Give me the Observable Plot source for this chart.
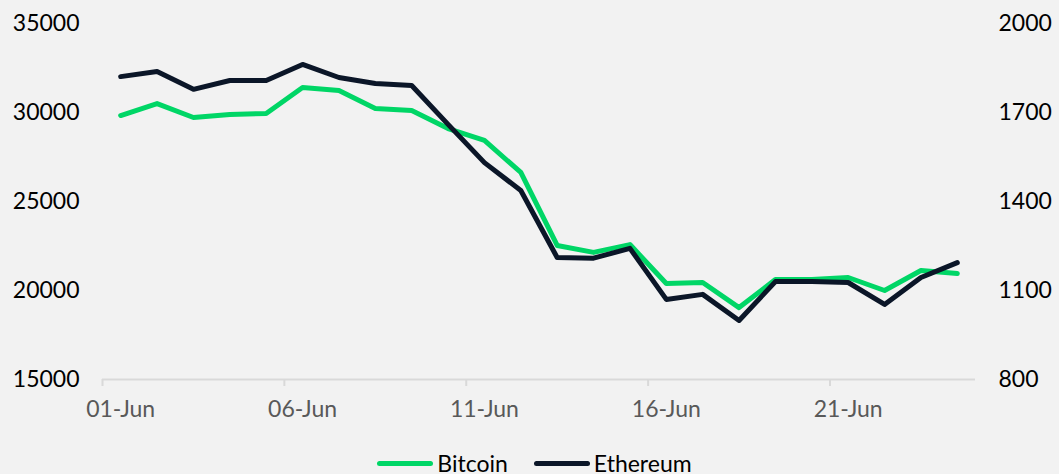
<!DOCTYPE html>
<html>
<head>
<meta charset="utf-8">
<script src="https://cdn.jsdelivr.net/npm/d3@7"></script>
<script src="https://cdn.jsdelivr.net/npm/@observablehq/plot@0.6"></script>
<style>
  html, body { margin: 0; padding: 0; background: #f2f2f2; }
  body { width: 1059px; height: 474px; overflow: hidden; font-family: Lato, "Open Sans", sans-serif; }
  #legend { display: flex; justify-content: center; align-items: center; height: 44px; margin-top: 11px; font-size: 23px; color: #000; margin-left: 10px; }
  .item { display: flex; align-items: center; margin: 0 13px; }
  .sw { width: 56px; height: 5px; border-radius: 3px; margin-right: 4px; }
</style>
</head>
<body>
<div id="chart"></div>
<div id="legend"></div>
<script>
const dates = ["01-Jun","02-Jun","03-Jun","04-Jun","05-Jun","06-Jun","07-Jun","08-Jun","09-Jun","10-Jun","11-Jun","12-Jun","13-Jun","14-Jun","15-Jun","16-Jun","17-Jun","18-Jun","19-Jun","20-Jun","21-Jun","22-Jun","23-Jun","24-Jun"];
const bitcoin = [29830,30500,29720,29890,29940,31400,31240,30230,30110,29100,28430,26630,22530,22140,22580,20390,20450,19040,20620,20620,20730,20000,21120,20950];
const ethereum = [1821,1838,1778,1808,1808,1862,1818,1798,1791,1660,1531,1437,1211,1209,1242,1070,1087,999,1130,1130,1127,1053,1144,1194];
const leftTicks = [15000,20000,25000,30000,35000];
const rightTicks = [800,1100,1400,1700,2000];
const labelEvery = 5;
const series = [
  {name: "Bitcoin", color: "#00d666"},
  {name: "Ethereum", color: "#0b1628"}
];

// map Ethereum scale [800,2000] onto Bitcoin scale [15000,35000]
const toLeft = v => leftTicks[0] + (v - rightTicks[0]) * (leftTicks[leftTicks.length-1] - leftTicks[0]) / (rightTicks[rightTicks.length-1] - rightTicks[0]);

const btcData = dates.map((d, i) => ({i, v: bitcoin[i]}));
const ethData = dates.map((d, i) => ({i, v: toLeft(ethereum[i])}));
const labelIdx = dates.map((d, i) => i).filter(i => i % labelEvery === 0);
const boundaryIdx = labelIdx.map(i => i - 0.5);

const chart = Plot.plot({
  width: 1059,
  height: 430,
  marginLeft: 102,
  marginRight: 84,
  marginTop: 23,
  marginBottom: 51,
  style: {background: "#f2f2f2", fontFamily: "Lato, 'Open Sans', sans-serif", fontSize: "23px"},
  x: {domain: [-0.5, dates.length - 0.5], label: null},
  y: {domain: [leftTicks[0], leftTicks[leftTicks.length-1]], label: null},
  marks: [
    Plot.ruleY([leftTicks[0]], {stroke: "#d9d9d9", strokeWidth: 2}),
    Plot.axisX({ticks: boundaryIdx, tickFormat: () => "", tickSize: 7, stroke: "#d9d9d9", strokeWidth: 2, strokeOpacity: 1, label: null}),
    Plot.axisX({ticks: labelIdx, tickFormat: i => dates[i], tickSize: 0, tickPadding: 21, fill: "#595959", fontSize: 23, label: null}),
    Plot.axisY({ticks: leftTicks, tickSize: 0, tickPadding: 23, tickFormat: d => String(d), fill: "#000", fontSize: 23, label: null}),
    Plot.axisY({anchor: "right", ticks: rightTicks.map(toLeft), tickSize: 0, tickPadding: 23, tickFormat: (d, k) => String(rightTicks[k]), fill: "#000", fontSize: 23, label: null}),
    Plot.line(btcData, {x: "i", y: "v", stroke: series[0].color, strokeWidth: 5, strokeLinecap: "round", strokeLinejoin: "round"}),
    Plot.line(ethData, {x: "i", y: "v", stroke: series[1].color, strokeWidth: 5, strokeLinecap: "round", strokeLinejoin: "round"})
  ]
});
document.getElementById("chart").appendChild(chart);

const legend = document.getElementById("legend");
series.forEach(s => {
  const item = document.createElement("div");
  item.className = "item";
  const sw = document.createElement("div");
  sw.className = "sw";
  sw.style.background = s.color;
  const t = document.createElement("span");
  t.textContent = s.name;
  item.appendChild(sw);
  item.appendChild(t);
  legend.appendChild(item);
});
</script>
</body>
</html>
